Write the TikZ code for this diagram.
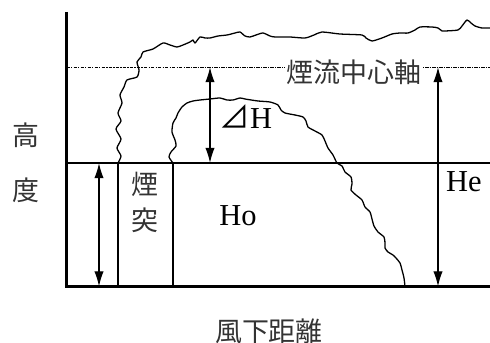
\documentclass[tikz,border=0pt]{standalone}
\usepackage{fontspec}
\setmainfont{Liberation Serif}
\newfontfamily\jpfont{Noto Sans CJK JP}
\usetikzlibrary{arrows.meta}
\tikzset{
	axisline/.style={line width=2.4pt},
	thinline/.style={line width=1.1pt},
	plume/.style={line width=1.1pt, line join=round},
	dimarrow/.style={line width=1.1pt, {Latex[length=13pt,width=8pt]}-{Latex[length=13pt,width=8pt]}},
	label/.style={font=\fontsize{26}{30}\selectfont, inner sep=0pt},
	jplabel/.style={font=\fontsize{23}{28}\selectfont\jpfont, inner sep=0pt, text=black!80}
}
\begin{document}
\begin{tikzpicture}[x=0.03cm,y=-0.03cm]
				\useasboundingbox (0,0) rectangle (490,343);
				%axes
				\coordinate (ytop) at (66.5,12);
				\coordinate (orig) at (66.5,286.5);
				\coordinate (xend) at (490,286.5);
				\draw[axisline] (ytop) -- (orig) -- (xend);
				\node[jplabel] (high) at (26,135){高};
				\node[jplabel] (deg) at (26,190){度};
				\node[jplabel] (down) at (269,331){風下距離};
				
				%chimney
				\coordinate (stl) at (68,163);
				\coordinate (str) at (490,163);
				\draw[thinline] (stl) -- (str);
				\coordinate (chl) at (118,163);
				\coordinate (chr) at (173,163);
				\draw[thinline] (chl) -- (chl |- orig);
				\draw[thinline] (chr) -- (chr |- orig);
				\draw[line width=2.2pt] (chl) -- (chr);
				\node[jplabel] (ch1) at (145,184){煙};
				\node[jplabel] (ch2) at (145,220){突};
				
				%plume axis
				\coordinate (axl) at (66.5,67);
				\coordinate (axr) at (490,67);
				\draw[line width=0.6pt, dash pattern=on 3pt off 1pt on 1pt off 1pt] (axl) -- (axr);
				\node[jplabel, fill=white, inner sep=1pt] (axis) at (354,72){煙流中心軸};
				
				%plume edges
				\draw[plume] plot[smooth, tension=0.4] coordinates {
					(118,163) (121,156) (117,148) (121,139) (116,129) (121,121) (118,113)
					(122,103) (120,95) (124,87) (127,80) (137,77) (139,70) (137,62) (141,57)
					(143,52) (153,49) (163,43) (170,45) (177,47) (183,45) (190,42) (193,40) (195,43)
					(200,37) (205,38) (210,38) (218,36) (227,35) (235,33) (240,32) (245,36)
					(250,37) (256,35) (263,33) (270,36) (275,37) (290,37) (305,38) (314,35) (322,32)
					(340,34) (362,35) (366,38) (372,41) (382,38) (392,34) (400,33) (408,33)
					(415,30) (420,27) (432,27) (438,28) (442,31) (445,31) (458,30) (462,26)
					(467,20) (471,23) (475,26) (482,28) (490,28)};
				\draw[plume] plot[smooth, tension=0.4] coordinates {
					(173,163) (169,157) (171,152) (176,146) (175,140) (172,132) (173,123)
					(176,118) (178,113) (182,107) (187,103) (193,101) (200,100) (210,99) (220,98)
					(227,100) (233,100) (240,98) (245,99) (258,101) (270,102) (278,105)
					(281,110) (285,113) (295,115) (303,117) (306,121) (308,127) (315,131) (322,135)
					(325,141) (328,148) (333,155) (337,163) (342,166) (345,172) (351,177) (352,184)
					(351,190) (356,195) (362,200) (365,207) (370,212) (372,219) (374,226) (378,232)
					(384,237) (385,243) (385,248) (388,252) (393,255) (396,258) (400,263) (402,270)
					(404,278) (405,286.5)};
				
				%heights
				\coordinate (hs1) at (99,163);
				\coordinate (hs2) at (99,286.5);
				\draw[dimarrow] (hs1) -- (hs2);
				\coordinate (dh1) at (210,67);
				\coordinate (dh2) at (210,163);
				\draw[dimarrow] (dh1) -- (dh2);
				\node[label] (dH) at (246,117){{\jpfont ⊿}H};
				\coordinate (he1) at (438,67);
				\coordinate (he2) at (438,286.5);
				\draw[dimarrow] (he1) -- (he2);
				\node[label] (Ho) at (238,216){Ho};
				\node[label] (He) at (464,182){He};
\end{tikzpicture}
\end{document}
